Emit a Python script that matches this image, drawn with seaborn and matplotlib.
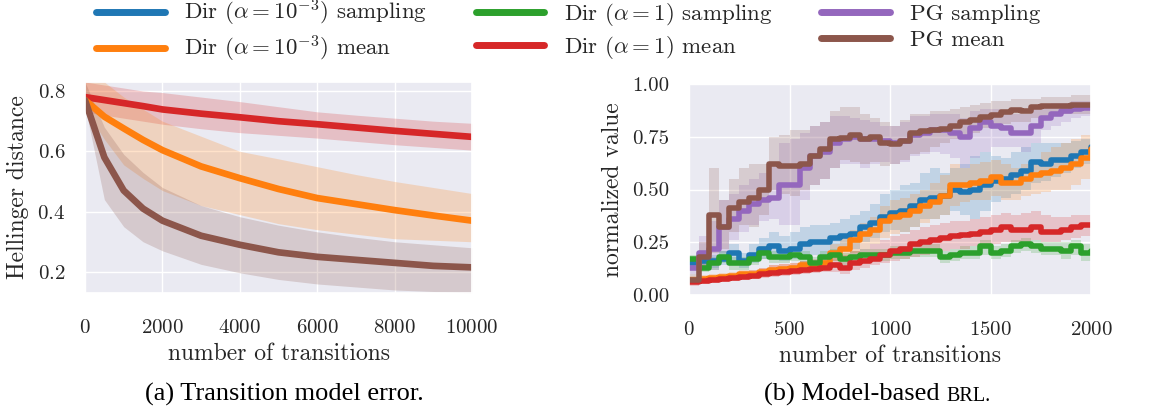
import numpy as np
import matplotlib
matplotlib.use("Agg")
import matplotlib.pyplot as plt
import seaborn as sns

# ---- (a) transition model error ----
x_err = [0, 500, 1000, 1500, 2000, 3000, 4000, 5000, 6000, 7000, 8000, 9000, 10000]
err_red = [0.78, 0.77, 0.76, 0.75, 0.739, 0.725, 0.713, 0.70, 0.69, 0.679, 0.668, 0.658, 0.648]
err_red_lo = [0.73, 0.72, 0.71, 0.70, 0.69, 0.675, 0.662, 0.653, 0.644, 0.633, 0.622, 0.613, 0.604]
err_red_hi = [0.83, 0.82, 0.81, 0.80, 0.795, 0.78, 0.765, 0.748, 0.731, 0.72, 0.71, 0.70, 0.693]
err_orange = [0.77, 0.715, 0.676, 0.638, 0.604, 0.55, 0.511, 0.475, 0.445, 0.425, 0.405, 0.387, 0.37]
err_orange_lo = [0.74, 0.64, 0.555, 0.51, 0.47, 0.42, 0.39, 0.36, 0.34, 0.325, 0.31, 0.305, 0.30]
err_orange_hi = [0.83, 0.83, 0.78, 0.74, 0.70, 0.65, 0.60, 0.575, 0.549, 0.523, 0.50, 0.48, 0.46]
err_brown = [0.77, 0.58, 0.47, 0.41, 0.37, 0.32, 0.29, 0.265, 0.25, 0.24, 0.23, 0.22, 0.215]
err_brown_lo = [0.75, 0.44, 0.35, 0.30, 0.27, 0.225, 0.197, 0.175, 0.16, 0.15, 0.14, 0.135, 0.13]
err_brown_hi = [0.83, 0.68, 0.59, 0.53, 0.48, 0.42, 0.383, 0.355, 0.333, 0.315, 0.30, 0.29, 0.28]

# ---- (b) model-based BRL, one value per 50 transitions ----
x_brl = list(range(0, 2001, 50))
dir3_samp = [0.15, 0.16, 0.16, 0.17, 0.20, 0.16, 0.19, 0.22, 0.23, 0.21,
             0.22, 0.24, 0.25, 0.25, 0.27, 0.28, 0.29, 0.32, 0.34, 0.37,
             0.39, 0.40, 0.42, 0.45, 0.46, 0.47, 0.50, 0.49, 0.50, 0.52,
             0.54, 0.55, 0.57, 0.59, 0.63, 0.62, 0.64, 0.64, 0.66, 0.68, 0.70]
dir3_samp_lo = [0.12, 0.13, 0.13, 0.14, 0.16, 0.13, 0.15, 0.17, 0.18, 0.16,
                0.17, 0.18, 0.19, 0.19, 0.21, 0.22, 0.22, 0.25, 0.27, 0.30,
                0.31, 0.30, 0.32, 0.36, 0.36, 0.38, 0.40, 0.38, 0.36, 0.40,
                0.44, 0.46, 0.48, 0.50, 0.53, 0.54, 0.56, 0.58, 0.60, 0.62, 0.64]
dir3_samp_hi = [0.18, 0.19, 0.19, 0.21, 0.24, 0.20, 0.24, 0.27, 0.30, 0.28,
                0.30, 0.32, 0.33, 0.33, 0.34, 0.36, 0.38, 0.40, 0.43, 0.48,
                0.50, 0.52, 0.53, 0.58, 0.60, 0.58, 0.60, 0.62, 0.66, 0.68,
                0.66, 0.65, 0.68, 0.70, 0.72, 0.72, 0.72, 0.72, 0.73, 0.74, 0.75]
dir3_mean = [0.07, 0.075, 0.08, 0.085, 0.09, 0.10, 0.10, 0.11, 0.12, 0.125,
             0.13, 0.14, 0.14, 0.15, 0.20, 0.22, 0.26, 0.29, 0.31, 0.35,
             0.37, 0.38, 0.40, 0.42, 0.44, 0.47, 0.52, 0.52, 0.53, 0.54,
             0.56, 0.53, 0.53, 0.55, 0.57, 0.58, 0.59, 0.60, 0.62, 0.65, 0.69]
dir3_mean_lo = [0.055, 0.06, 0.065, 0.07, 0.075, 0.08, 0.085, 0.09, 0.10, 0.105,
                0.11, 0.115, 0.12, 0.13, 0.16, 0.17, 0.20, 0.22, 0.24, 0.27,
                0.29, 0.30, 0.32, 0.34, 0.36, 0.38, 0.42, 0.44, 0.45, 0.45,
                0.47, 0.45, 0.45, 0.47, 0.48, 0.49, 0.50, 0.50, 0.52, 0.55, 0.60]
dir3_mean_hi = [0.09, 0.095, 0.10, 0.105, 0.11, 0.12, 0.12, 0.13, 0.14, 0.145,
                0.15, 0.16, 0.16, 0.17, 0.24, 0.27, 0.31, 0.34, 0.37, 0.42,
                0.45, 0.46, 0.48, 0.50, 0.53, 0.57, 0.62, 0.60, 0.62, 0.63,
                0.64, 0.62, 0.60, 0.62, 0.64, 0.68, 0.70, 0.72, 0.74, 0.76, 0.77]
dir1_samp = [0.17, 0.13, 0.15, 0.18, 0.15, 0.15, 0.17, 0.20, 0.18, 0.18,
             0.19, 0.18, 0.15, 0.18, 0.19, 0.17, 0.18, 0.19, 0.19, 0.19,
             0.20, 0.20, 0.21, 0.21, 0.21, 0.18, 0.19, 0.20, 0.20, 0.23,
             0.20, 0.21, 0.23, 0.24, 0.23, 0.22, 0.22, 0.21, 0.23, 0.20, 0.21]
dir1_samp_lo = [0.15, 0.11, 0.12, 0.15, 0.12, 0.12, 0.14, 0.17, 0.15, 0.15,
                0.16, 0.15, 0.12, 0.15, 0.16, 0.14, 0.15, 0.16, 0.16, 0.16,
                0.17, 0.17, 0.18, 0.18, 0.18, 0.15, 0.16, 0.17, 0.17, 0.19,
                0.17, 0.18, 0.20, 0.21, 0.20, 0.19, 0.19, 0.17, 0.19, 0.16, 0.16]
dir1_samp_hi = [0.19, 0.16, 0.18, 0.21, 0.18, 0.18, 0.20, 0.23, 0.21, 0.21,
                0.22, 0.21, 0.18, 0.21, 0.22, 0.20, 0.21, 0.22, 0.22, 0.22,
                0.23, 0.23, 0.24, 0.24, 0.24, 0.21, 0.22, 0.23, 0.23, 0.26,
                0.23, 0.24, 0.26, 0.27, 0.26, 0.25, 0.25, 0.25, 0.26, 0.24, 0.27]
dir1_mean = [0.06, 0.065, 0.07, 0.075, 0.08, 0.085, 0.09, 0.10, 0.105, 0.11,
             0.115, 0.12, 0.125, 0.13, 0.14, 0.13, 0.15, 0.16, 0.17, 0.19,
             0.21, 0.22, 0.24, 0.25, 0.26, 0.27, 0.28, 0.285, 0.29, 0.30,
             0.31, 0.32, 0.31, 0.31, 0.32, 0.30, 0.30, 0.31, 0.32, 0.33, 0.33]
dir1_mean_lo = [0.045, 0.05, 0.055, 0.06, 0.065, 0.07, 0.075, 0.08, 0.085, 0.09,
                0.095, 0.10, 0.105, 0.11, 0.11, 0.10, 0.12, 0.13, 0.14, 0.15,
                0.16, 0.17, 0.18, 0.19, 0.20, 0.21, 0.22, 0.22, 0.23, 0.23,
                0.24, 0.25, 0.25, 0.25, 0.26, 0.25, 0.25, 0.26, 0.27, 0.28, 0.28]
dir1_mean_hi = [0.08, 0.085, 0.09, 0.095, 0.10, 0.11, 0.12, 0.13, 0.14, 0.145,
                0.15, 0.16, 0.17, 0.18, 0.19, 0.19, 0.21, 0.22, 0.24, 0.26,
                0.28, 0.29, 0.31, 0.32, 0.33, 0.34, 0.35, 0.35, 0.36, 0.37,
                0.38, 0.39, 0.38, 0.39, 0.40, 0.38, 0.37, 0.37, 0.38, 0.38, 0.38]
pg_samp = [0.13, 0.20, 0.22, 0.32, 0.36, 0.40, 0.43, 0.45, 0.46, 0.52,
           0.52, 0.60, 0.66, 0.68, 0.72, 0.74, 0.75, 0.74, 0.74, 0.73,
           0.72, 0.73, 0.76, 0.77, 0.78, 0.78, 0.77, 0.75, 0.79, 0.82,
           0.80, 0.79, 0.77, 0.77, 0.80, 0.84, 0.86, 0.87, 0.88, 0.885, 0.885]
pg_samp_lo = [0.10, 0.12, 0.12, 0.20, 0.26, 0.30, 0.33, 0.35, 0.36, 0.33,
              0.33, 0.45, 0.52, 0.55, 0.60, 0.62, 0.62, 0.60, 0.62, 0.63,
              0.62, 0.63, 0.66, 0.67, 0.68, 0.67, 0.65, 0.60, 0.65, 0.68,
              0.70, 0.70, 0.70, 0.68, 0.72, 0.78, 0.80, 0.82, 0.84, 0.85, 0.86]
pg_samp_hi = [0.15, 0.28, 0.35, 0.45, 0.48, 0.52, 0.55, 0.58, 0.63, 0.72,
              0.74, 0.77, 0.80, 0.82, 0.85, 0.85, 0.84, 0.83, 0.82, 0.80,
              0.80, 0.82, 0.85, 0.85, 0.86, 0.86, 0.86, 0.84, 0.87, 0.88,
              0.88, 0.87, 0.86, 0.86, 0.88, 0.90, 0.91, 0.91, 0.92, 0.92, 0.93]
pg_mean = [0.07, 0.18, 0.38, 0.32, 0.41, 0.44, 0.46, 0.50, 0.62, 0.61,
           0.61, 0.62, 0.66, 0.69, 0.74, 0.745, 0.76, 0.74, 0.75, 0.72,
           0.715, 0.73, 0.77, 0.775, 0.78, 0.785, 0.80, 0.82, 0.83, 0.845,
           0.855, 0.865, 0.877, 0.87, 0.89, 0.895, 0.895, 0.895, 0.90, 0.90, 0.90]
pg_mean_lo = [0.05, 0.12, 0.20, 0.22, 0.30, 0.33, 0.32, 0.38, 0.50, 0.48,
              0.47, 0.50, 0.52, 0.55, 0.60, 0.64, 0.63, 0.62, 0.63, 0.61,
              0.62, 0.64, 0.67, 0.68, 0.70, 0.72, 0.74, 0.76, 0.77, 0.79,
              0.80, 0.81, 0.82, 0.82, 0.84, 0.85, 0.85, 0.86, 0.86, 0.86, 0.87]
pg_mean_hi = [0.10, 0.25, 0.60, 0.45, 0.55, 0.60, 0.62, 0.62, 0.75, 0.76,
              0.78, 0.78, 0.80, 0.82, 0.87, 0.89, 0.89, 0.86, 0.84, 0.82,
              0.80, 0.83, 0.86, 0.86, 0.87, 0.87, 0.88, 0.89, 0.90, 0.91,
              0.92, 0.92, 0.93, 0.93, 0.93, 0.94, 0.94, 0.94, 0.95, 0.95, 0.95]

labels = [r"Dir ($\alpha=10^{-3}$) sampling", r"Dir ($\alpha=10^{-3}$) mean",
          r"Dir ($\alpha=1$) sampling", r"Dir ($\alpha=1$) mean",
          "PG sampling", "PG mean"]
colors = sns.color_palette("tab10")[:6]

sns.set_theme(style="darkgrid")
plt.rcParams["font.family"] = ["cmr10", "DejaVu Serif"]
plt.rcParams["mathtext.fontset"] = "cm"
plt.rcParams["axes.formatter.use_mathtext"] = True
plt.rcParams["axes.unicode_minus"] = False

W, H = 1153, 416
fig = plt.figure(figsize=(W / 100, H / 100), dpi=100)
ax1 = fig.add_axes([85 / W, 1 - 293 / H, 387 / W, 211 / H])
ax2 = fig.add_axes([689 / W, 1 - 295 / H, 402 / W, 211 / H])

# left panel: smooth curves with shaded bands
for mean, lo, hi, c in [(err_red, err_red_lo, err_red_hi, colors[3]),
                        (err_orange, err_orange_lo, err_orange_hi, colors[1]),
                        (err_brown, err_brown_lo, err_brown_hi, colors[5])]:
    ax1.fill_between(x_err, lo, hi, color=c, alpha=0.22, lw=0)
    sns.lineplot(x=x_err, y=mean, ax=ax1, color=c, lw=4.8)

ax1.set_xlim(0, 10000)
ax1.set_ylim(0.13, 0.83)
ax1.set_yticks([0.2, 0.4, 0.6, 0.8])
ax1.set_xticks([0, 2000, 4000, 6000, 8000, 10000])
ax1.set_ylabel("Hellinger distance", fontsize=17, labelpad=6)
ax1.set_xlabel("number of transitions", fontsize=17)

# right panel: step curves
series = [(dir3_samp, dir3_samp_lo, dir3_samp_hi),
          (dir3_mean, dir3_mean_lo, dir3_mean_hi),
          (dir1_samp, dir1_samp_lo, dir1_samp_hi),
          (dir1_mean, dir1_mean_lo, dir1_mean_hi),
          (pg_samp, pg_samp_lo, pg_samp_hi),
          (pg_mean, pg_mean_lo, pg_mean_hi)]
handles = []
for (mean, lo, hi), c in zip(series, colors):
    ax2.fill_between(x_brl, lo, hi, step="post", color=c, alpha=0.2, lw=0)
for (mean, lo, hi), c in zip(series, colors):
    sns.lineplot(x=x_brl, y=mean, ax=ax2, color=c, lw=4, drawstyle="steps-post")
    handles.append(plt.Line2D([], [], color=c, lw=5, solid_capstyle="round"))

ax2.set_xlim(0, 2000)
ax2.set_ylim(0, 1.0)
ax2.set_yticks([0, 0.25, 0.5, 0.75, 1.0])
ax2.set_yticklabels(["0.00", "0.25", "0.50", "0.75", "1.00"])
ax2.set_xticks([0, 500, 1000, 1500, 2000])
ax2.set_ylabel("normalized value", fontsize=17, labelpad=6)
ax2.set_xlabel("number of transitions", fontsize=17)

for ax in (ax1, ax2):
    ax.tick_params(axis="x", labelsize=15, pad=13)
    ax.tick_params(axis="y", labelsize=15, pad=8)
    ax.xaxis.labelpad = 4

fig.legend(handles, labels, ncol=3, loc="upper center", bbox_to_anchor=(0.4926, 1.01),
           borderaxespad=0, borderpad=0.1, frameon=False, fontsize=16.5,
           handlelength=3.0, handletextpad=0.87, columnspacing=2.1, labelspacing=0.25)

# captions
yb = 1 - 401 / H
fig.text(284 / W, yb, "(a) Transition model error.", family="Liberation Serif",
         fontsize=19, ha="center", va="baseline", color="black")
t1 = fig.text(0, yb, "(b) Model-based ", family="Liberation Serif",
              fontsize=19, ha="left", va="baseline", color="black")
t2 = fig.text(0, yb, "BRL.", family="Liberation Serif",
              fontsize=14.5, ha="left", va="baseline", color="black")
fig.canvas.draw()
r = fig.canvas.get_renderer()
w1 = t1.get_window_extent(r).width
w2 = t2.get_window_extent(r).width
x0 = 877 - (w1 + w2) / 2
t1.set_x(x0 / W)
t2.set_x((x0 + w1) / W)

fig.savefig("out.png", dpi=100)
